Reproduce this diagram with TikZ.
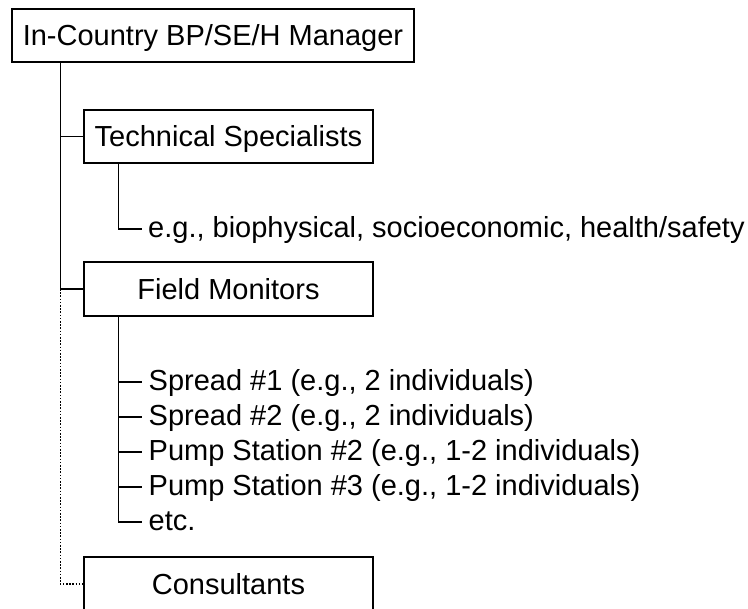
\documentclass[tikz,border=0pt]{standalone}
\usepackage{fontspec}
\setmainfont{Liberation Sans}
\begin{document}
\begin{tikzpicture}[x=1pt,y=1pt,
  every node/.style={font=\fontsize{29}{35}\selectfont},
  orgbox/.style={draw, line width=1.4pt, inner sep=0pt, text height=20.8pt, text depth=0pt},
  item/.style={anchor=west, inner xsep=6.5pt, inner ysep=0pt, text height=18pt, text depth=0pt},
  link/.style={line width=1.4pt},
  dotlink/.style={line width=1.5pt, dash pattern=on 1.6pt off 1.6pt}]
  % page frame
  \clip (0,0) rectangle (748,-609);
  \fill[white] (0,0) rectangle (748,-609);

  % boxes
  \node[orgbox, minimum width=402pt, minimum height=53pt] (mgr) at (213,-35.5) {In-Country BP/SE/H Manager};
  \node[orgbox, minimum width=289pt, minimum height=53pt] (tech) at (228.5,-136.5) {Technical Specialists};
  \node[orgbox, minimum width=289pt, minimum height=54pt] (field) at (228.5,-289) {Field Monitors};
  \node[orgbox, minimum width=289pt, minimum height=54pt] (cons) at (228.5,-584) {Consultants};

  % main spine
  \coordinate (spine) at ([xshift=49pt]mgr.south west);
  \draw[link] (spine) |- (tech.west);
  \draw[link] (spine) |- (field.west);
  \draw[dotlink] (spine |- field.west) |- (cons.west);

  % technical specialists detail
  \node[item] (eg) at (141.5,-229) {e.g., biophysical, socioeconomic, health/safety};
  \coordinate (tspine) at ([xshift=35pt]tech.south west);
  \draw[link] (tspine) |- (eg.west);

  % field monitor assignments
  \node[item] (s1) at (142,-382) {Spread \#1 (e.g., 2 individuals)};
  \node[item] (s2) at (142,-417) {Spread \#2 (e.g., 2 individuals)};
  \node[item] (p2) at (142,-452) {Pump Station \#2 (e.g., 1-2 individuals)};
  \node[item] (p3) at (142,-487) {Pump Station \#3 (e.g., 1-2 individuals)};
  \node[item] (etc) at (142,-522) {etc.};
  \coordinate (fspine) at ([xshift=35pt]field.south west);
  \draw[link] (fspine) |- (etc.west);
  \foreach \n in {s1,s2,p2,p3} {
    \draw[link] (fspine |- \n.west) -- (\n.west);
  }
\end{tikzpicture}
\end{document}
